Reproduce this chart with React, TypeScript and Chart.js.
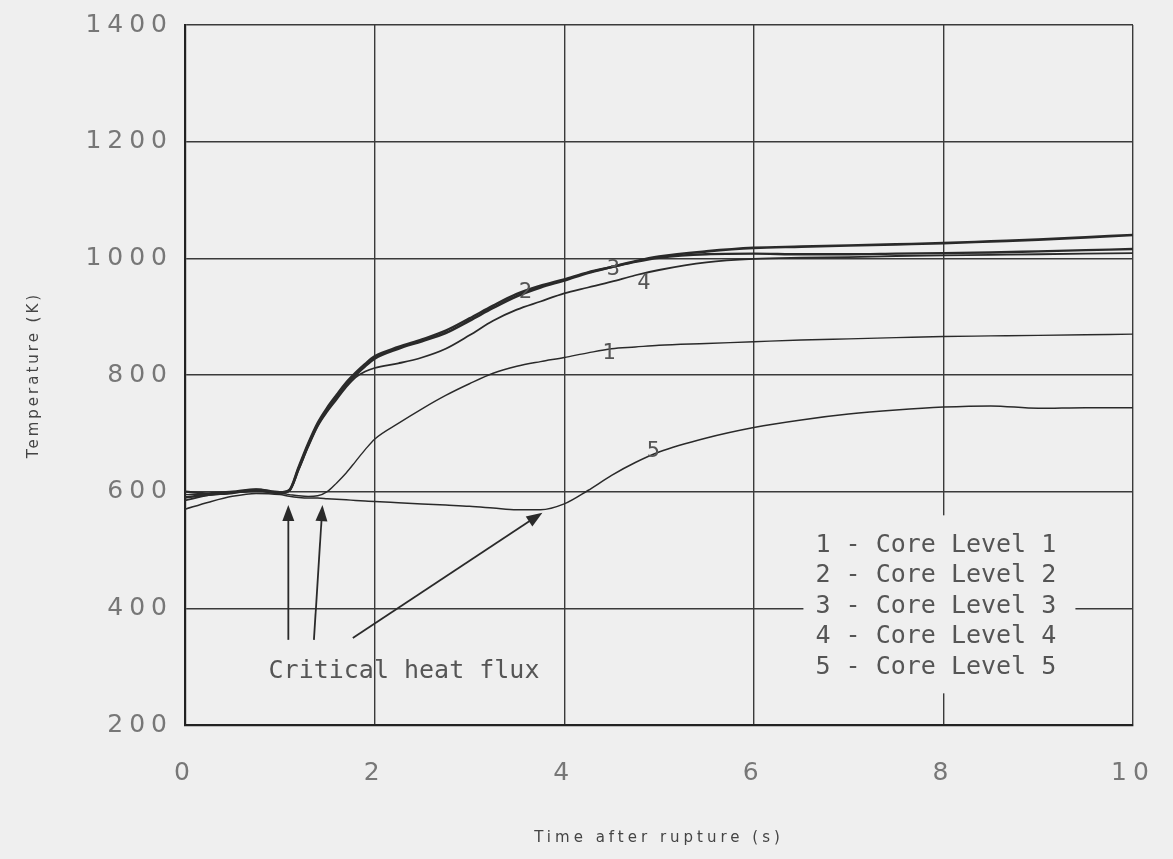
import React, { useEffect, useRef } from "react";
import { Chart, registerables } from "chart.js";

Chart.register(...registerables);

// ---------------- data ----------------
const TIME = [0, 0.25, 0.5, 0.75, 1.0, 1.1, 1.2, 1.3, 1.4, 1.5, 1.6, 1.7, 1.8, 1.9, 2.0, 2.25, 2.5, 2.75, 3.0, 3.25, 3.5, 3.75, 4.0, 4.25, 4.5, 4.75, 5.0, 5.5, 6.0, 6.5, 7.0, 7.5, 8.0, 8.5, 9.0, 9.5, 10.0];

const LEVEL1 = [595, 596, 598, 600, 597, 595, 593, 592, 593, 600, 615, 632, 652, 672, 690, 717, 742, 765, 785, 803, 815, 823, 830, 838, 845, 848, 851, 854, 857, 860, 862, 864, 866, 867, 868, 869, 870];
const LEVEL2 = [600, 597, 600, 604, 599, 603, 643, 683, 718, 744, 766, 787, 804, 819, 832, 848, 861, 876, 897, 919, 939, 953, 964, 976, 985, 994, 1001, 1007, 1008, 1007, 1007, 1008, 1009, 1010, 1012, 1014, 1016];
const LEVEL3 = [590, 595, 598, 603, 598, 602, 640, 680, 715, 740, 762, 783, 800, 815, 828, 845, 858, 872, 893, 915, 935, 950, 962, 975, 985, 995, 1003, 1012, 1018, 1020, 1022, 1024, 1026, 1029, 1032, 1036, 1040];
const LEVEL4 = [585, 594, 598, 602, 597, 601, 638, 677, 712, 737, 758, 779, 796, 806, 812, 820, 830, 845, 868, 893, 912, 926, 940, 950, 960, 971, 980, 993, 999, 1001, 1002, 1004, 1005, 1006, 1007, 1008, 1009];
const LEVEL5 = [570, 582, 592, 597, 595, 592, 590, 589, 589, 588, 587, 586, 585, 584, 583, 581, 579, 577, 575, 572, 569, 569, 579, 602, 628, 650, 668, 692, 710, 723, 733, 740, 745, 747, 743, 744, 744];

const SERIES = [LEVEL1, LEVEL2, LEVEL3, LEVEL4, LEVEL5];
const SERIES_NAMES = ["Core Level 1", "Core Level 2", "Core Level 3", "Core Level 4", "Core Level 5"];
const SERIES_WIDTHS = [1.4, 2.4, 2.6, 1.8, 1.5];

const X_TICKS = [0, 2, 4, 6, 8, 10];
const Y_TICKS = [200, 400, 600, 800, 1000, 1200, 1400];

// curve number labels (data coordinates)
const CURVE_LABELS = ["1", "2", "3", "4", "5"];
const CURVE_LABEL_T = [4.47, 3.59, 4.52, 4.84, 4.94];
const CURVE_LABEL_TEMP = [838, 942, 982, 958, 670];

// critical heat flux arrows (data coordinates)
const ARROW_FROM_T = [1.09, 1.36, 1.77];
const ARROW_FROM_TEMP = [346, 346, 349];
const ARROW_TO_T = [1.09, 1.45, 3.77];
const ARROW_TO_TEMP = [577, 577, 564];
const ANNOT_TEXT = "Critical heat flux";
const ANNOT_T = 2.31;
const ANNOT_TEMP = 291;

const LEGEND_ITEMS = SERIES_NAMES.map((n, i) => `${i + 1} - ${n}`);
const LEGEND_T = 6.65;
const LEGEND_TEMP = 508;

const X_TITLE = "Time after rupture (s)";
const Y_TITLE = "Temperature (K)";

// ---------------- drawing helpers ----------------
const INK = "#2a2a2a";
const BG = "#efefef";
const MONO = "'DejaVu Sans Mono', 'Liberation Mono', monospace";

function drawArrow(ctx: CanvasRenderingContext2D, x1: number, y1: number, x2: number, y2: number) {
  const ang = Math.atan2(y2 - y1, x2 - x1);
  const len = 16;
  const half = 6;
  const c = Math.cos(ang);
  const s = Math.sin(ang);
  ctx.beginPath();
  ctx.moveTo(x1, y1);
  ctx.lineTo(x2 - c * len * 0.7, y2 - s * len * 0.7);
  ctx.stroke();
  ctx.beginPath();
  ctx.moveTo(x2, y2);
  ctx.lineTo(x2 - len * c + half * s, y2 - len * s - half * c);
  ctx.lineTo(x2 - len * c - half * s, y2 - len * s + half * c);
  ctx.closePath();
  ctx.fill();
}

const overlayPlugin = {
  id: "overlay",
  beforeDraw(chart: any) {
    const ctx = chart.ctx as CanvasRenderingContext2D;
    ctx.save();
    ctx.fillStyle = BG;
    ctx.fillRect(0, 0, chart.width, chart.height);
    ctx.restore();
    (ctx as any).letterSpacing = "6px";
  },
  afterDatasetsDraw(chart: any) {
    const ctx = chart.ctx as CanvasRenderingContext2D;
    const xs = chart.scales.x;
    const ys = chart.scales.y;
    ctx.save();
    (ctx as any).letterSpacing = "0px";

    // legend box
    const lx = xs.getPixelForValue(LEGEND_T);
    const ly = ys.getPixelForValue(LEGEND_TEMP);
    const lineH = 30.5;
    ctx.fillStyle = BG;
    ctx.fillRect(lx - 12, ly - 30, 272, lineH * 4 + 56);
    ctx.fillStyle = "#555";
    ctx.font = `25px ${MONO}`;
    ctx.textAlign = "left";
    ctx.textBaseline = "middle";
    LEGEND_ITEMS.forEach((t, i) => ctx.fillText(t, lx, ly + i * lineH));

    // curve labels
    ctx.fillStyle = "#555";
    ctx.font = `22px ${MONO}`;
    ctx.textAlign = "center";
    CURVE_LABELS.forEach((t, i) => {
      ctx.fillText(t, xs.getPixelForValue(CURVE_LABEL_T[i]), ys.getPixelForValue(CURVE_LABEL_TEMP[i]));
    });

    // arrows
    ctx.strokeStyle = INK;
    ctx.fillStyle = INK;
    ctx.lineWidth = 1.8;
    ARROW_FROM_T.forEach((_, i) => {
      drawArrow(
        ctx,
        xs.getPixelForValue(ARROW_FROM_T[i]),
        ys.getPixelForValue(ARROW_FROM_TEMP[i]),
        xs.getPixelForValue(ARROW_TO_T[i]),
        ys.getPixelForValue(ARROW_TO_TEMP[i])
      );
    });

    // annotation text
    ctx.fillStyle = "#555";
    ctx.font = `25px ${MONO}`;
    ctx.textAlign = "center";
    ctx.fillText(ANNOT_TEXT, xs.getPixelForValue(ANNOT_T), ys.getPixelForValue(ANNOT_TEMP));
    ctx.restore();
  },
  afterDraw(chart: any) {
    const ctx = chart.ctx as CanvasRenderingContext2D;
    const area = chart.chartArea;
    ctx.save();
    (ctx as any).letterSpacing = "4px";
    ctx.fillStyle = "#444";
    ctx.font = "15px 'DejaVu Sans', sans-serif";
    ctx.textAlign = "center";
    ctx.textBaseline = "middle";
    ctx.fillText(X_TITLE, (area.left + area.right) / 2, 838);
    ctx.translate(34, (area.top + area.bottom) / 2);
    ctx.rotate(-Math.PI / 2);
    (ctx as any).letterSpacing = "3px";
    ctx.fillText(Y_TITLE, 0, 0);
    ctx.restore();
  },
};

export default function App() {
  const ref = useRef<HTMLCanvasElement>(null);

  useEffect(() => {
    document.body.style.margin = "0";
    const canvas = ref.current;
    if (!canvas) return;

    const datasets = SERIES.map((vals, i) => ({
      label: SERIES_NAMES[i],
      data: TIME.map((t, j) => ({ x: t, y: vals[j] })),
      borderColor: INK,
      borderWidth: SERIES_WIDTHS[i],
      pointRadius: 0,
      fill: false,
      cubicInterpolationMode: "monotone" as const,
    }));

    const chart = new Chart(canvas, {
      type: "line",
      data: { datasets },
      plugins: [overlayPlugin],
      options: {
        animation: false,
        responsive: false,
        devicePixelRatio: 1,
        layout: { padding: { left: 0, right: 40, top: 25, bottom: 0 } },
        plugins: { legend: { display: false }, tooltip: { enabled: false } },
        scales: {
          x: {
            type: "linear",
            min: 0,
            max: 10,
            afterBuildTicks: (scale: any) => {
              scale.ticks = X_TICKS.map((v) => ({ value: v }));
            },
            afterFit: (scale: any) => {
              scale.height = 134;
              scale.paddingLeft = 0;
              scale.paddingRight = 0;
            },
            ticks: {
              color: "#777",
              font: { family: "'DejaVu Sans', sans-serif", size: 25 },
              padding: 33,
              maxRotation: 0,
              callback: (v: any) => String(v),
            },
            grid: { color: "#3a3a3a", lineWidth: 1.4, drawTicks: false },
            border: { display: true, color: "#222", width: 2.2 },
          },
          y: {
            type: "linear",
            min: 200,
            max: 1400,
            afterBuildTicks: (scale: any) => {
              scale.ticks = Y_TICKS.map((v) => ({ value: v }));
            },
            afterFit: (scale: any) => {
              scale.width = 185;
              scale.paddingTop = 0;
              scale.paddingBottom = 0;
            },
            ticks: {
              color: "#777",
              font: { family: "'DejaVu Sans', sans-serif", size: 25 },
              padding: 12,
              callback: (v: any) => String(v),
            },
            grid: { color: "#3a3a3a", lineWidth: 1.4, drawTicks: false },
            border: { display: true, color: "#222", width: 2.2 },
          },
        },
      },
    } as any);

    return () => chart.destroy();
  }, []);

  return (
    <canvas
      ref={ref}
      width={1173}
      height={859}
      style={{ display: "block", width: 1173, height: 859 }}
    />
  );
}
